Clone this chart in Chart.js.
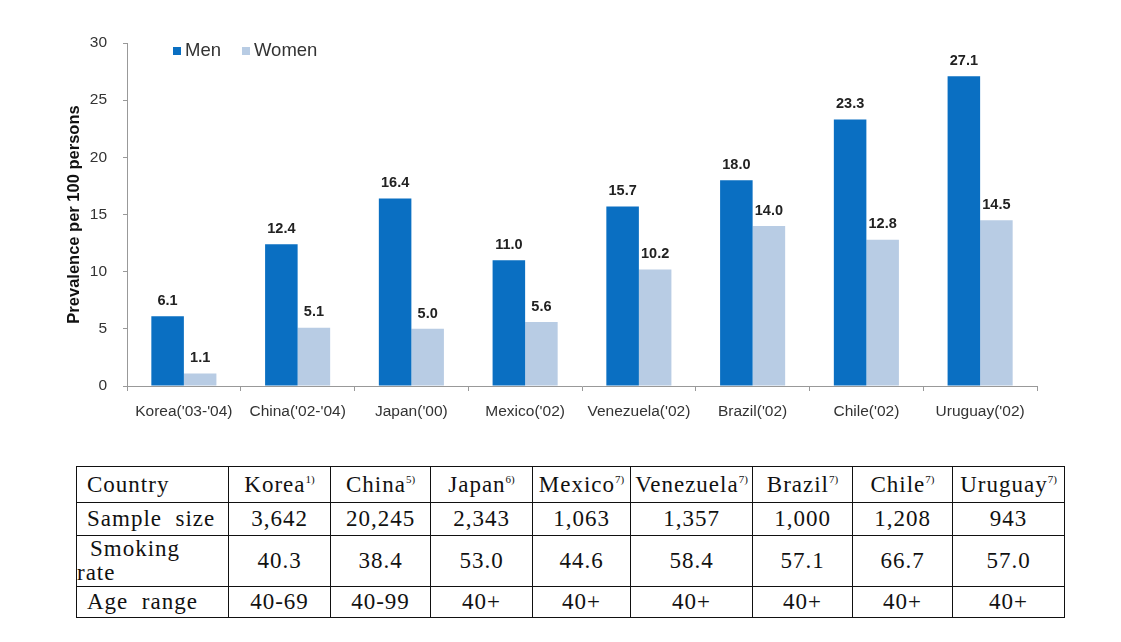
<!DOCTYPE html>
<html>
<head>
<meta charset="utf-8">
<script src="https://cdn.jsdelivr.net/npm/chart.js@4/dist/chart.umd.min.js"></script>
<style>
  html, body { margin: 0; padding: 0; background: #fff; }
  #wrap { position: relative; width: 1121px; height: 642px; }
  #chart-box { position: absolute; left: 0; top: 0; width: 1121px; height: 440px; }
  #info {
    position: absolute; left: 76px; top: 466px; width: 988px;
    border-collapse: collapse; table-layout: fixed;
    font-family: "Liberation Serif", serif; font-size: 23px; color: #111; letter-spacing: 1px;
  }
  #info td { border: 1.5px solid #111; text-align: center; padding: 0; line-height: 24px; white-space: nowrap; }
  #info td.lab { text-align: left; padding-left: 10px; }
  #info sup { font-size: 11px; vertical-align: 9px; line-height: 0; letter-spacing: 0; }
</style>
</head>
<body>
<div id="wrap">
  <div id="chart-box"><canvas id="chart"></canvas></div>
  <table id="info"></table>
</div>
<script>
/* bar chart: prevalence per 100 persons, men vs women */
const CATEGORIES = ["Korea('03-'04)", "China('02-'04)", "Japan('00)", "Mexico('02)",
                    "Venezuela('02)", "Brazil('02)", "Chile('02)", "Uruguay('02)"];
const MEN   = [6.1, 12.4, 16.4, 11.0, 15.7, 18.0, 23.3, 27.1];
const WOMEN = [1.1, 5.1, 5.0, 5.6, 10.2, 14.0, 12.8, 14.5];
const Y_TICKS = [0, 5, 10, 15, 20, 25, 30];

// table below the chart
const T_COUNTRIES = ['Korea', 'China', 'Japan', 'Mexico', 'Venezuela', 'Brazil', 'Chile', 'Uruguay'];
const T_REFS      = ['1)', '5)', '6)', '7)', '7)', '7)', '7)', '7)'];
const T_SAMPLE    = ['3,642', '20,245', '2,343', '1,063', '1,357', '1,000', '1,208', '943'];
const T_SMOKING   = ['40.3', '38.4', '53.0', '44.6', '58.4', '57.1', '66.7', '57.0'];
const T_AGE       = ['40-69', '40-99', '40+', '40+', '40+', '40+', '40+', '40+'];
const T_COL_W     = [152, 102, 100, 102, 98, 122, 100, 100, 112];

const MEN_COLOR = '#0A6FC2';
const WOMEN_COLOR = '#B8CCE4';
const SANS = '"Liberation Sans", Arial, sans-serif';

const barLabels = {
  id: 'barLabels',
  afterDatasetsDraw(chart) {
    const ctx = chart.ctx;
    ctx.save();
    ctx.font = 'bold 14.5px ' + SANS;
    ctx.fillStyle = '#222';
    ctx.textAlign = 'center';
    ctx.textBaseline = 'bottom';
    chart.data.datasets.forEach((ds, i) => {
      chart.getDatasetMeta(i).data.forEach((bar, j) => {
        ctx.fillText(ds.data[j].toFixed(1), bar.x, bar.y - 8);
      });
    });
    ctx.restore();
  }
};

// legend sits inside the plot area, top-left
const insideLegend = {
  id: 'insideLegend',
  afterDraw(chart) {
    const ctx = chart.ctx;
    const a = chart.chartArea;
    let x = a.left + 46;
    const y = a.top + 8;
    ctx.save();
    ctx.font = '18.5px ' + SANS;
    ctx.textBaseline = 'middle';
    ctx.textAlign = 'left';
    chart.data.datasets.forEach(ds => {
      ctx.fillStyle = ds.backgroundColor;
      ctx.fillRect(x, y - 4, 8, 8);
      ctx.fillStyle = '#333';
      ctx.fillText(ds.label, x + 12, y);
      x += 12 + ctx.measureText(ds.label).width + 21;
    });
    ctx.restore();
  }
};

new Chart(document.getElementById('chart'), {
  type: 'bar',
  data: {
    labels: CATEGORIES,
    datasets: [
      { label: 'Men',   data: MEN,   backgroundColor: MEN_COLOR,   categoryPercentage: 0.572, barPercentage: 1 },
      { label: 'Women', data: WOMEN, backgroundColor: WOMEN_COLOR, categoryPercentage: 0.572, barPercentage: 1 }
    ]
  },
  options: {
    responsive: true, maintainAspectRatio: false, animation: false,
    layout: { padding: { left: 63, right: 84, top: 43, bottom: 0 } },
    plugins: { legend: { display: false }, tooltip: { enabled: false } },
    scales: {
      x: {
        grid: { drawOnChartArea: false, tickLength: 5, color: '#999' },
        border: { color: '#999' },
        ticks: { color: '#333', padding: 11, maxRotation: 0, font: { size: 15.5, family: SANS } },
        afterFit: s => { s.height = 54; }
      },
      y: {
        min: 0, max: 30,
        afterBuildTicks: s => { s.ticks = Y_TICKS.map(v => ({ value: v })); },
        grid: { drawOnChartArea: false, tickLength: 4, color: '#999' },
        border: { color: '#999' },
        ticks: { color: '#333', padding: 16, font: { size: 15.5, family: SANS } },
        title: { display: true, text: 'Prevalence per 100 persons', color: '#111',
                 font: { size: 16.5, weight: 'bold', family: SANS }, padding: 2 },
        afterFit: s => { s.width = 64; }
      }
    }
  },
  plugins: [barLabels, insideLegend]
});

// build the table
const table = document.getElementById('info');
const row = (label, cells, h) => {
  const tr = table.insertRow();
  tr.style.height = h + 'px';
  const first = tr.insertCell();
  first.className = 'lab';
  first.innerHTML = label;
  cells.forEach(c => { tr.insertCell().innerHTML = c; });
};
const cg = document.createElement('colgroup');
T_COL_W.forEach(w => { const c = document.createElement('col'); c.style.width = w + 'px'; cg.appendChild(c); });
table.appendChild(cg);
row('Country', T_COUNTRIES.map((c, i) => c + '<sup>' + T_REFS[i] + '</sup>'), 36);
row('Sample&nbsp; size', T_SAMPLE, 33);
row('<span style="padding-left:3px">Smoking</span><br><span style="margin-left:-10px">rate</span>', T_SMOKING, 51);
row('Age&nbsp; range', T_AGE, 31);
</script>
</body>
</html>
